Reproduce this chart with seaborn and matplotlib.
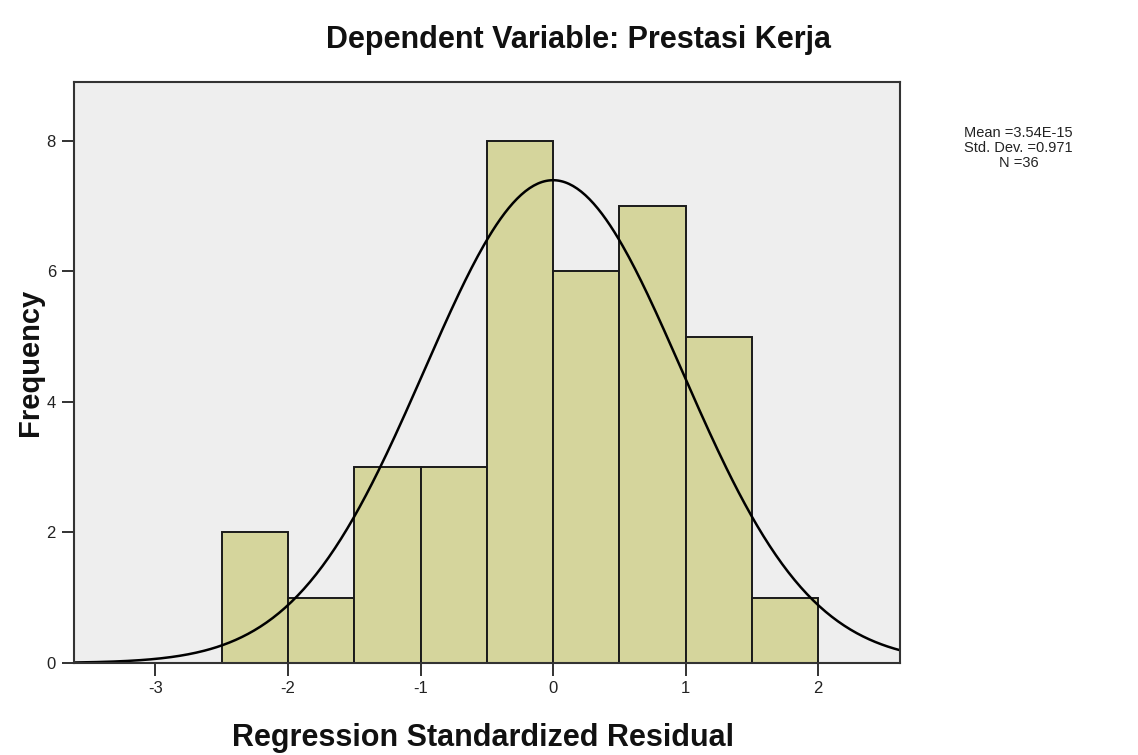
import numpy as np
import matplotlib
matplotlib.use("Agg")
import matplotlib.pyplot as plt
import seaborn as sns

# Data
bin_edges = [-2.5, -2.0, -1.5, -1.0, -0.5, 0.0, 0.5, 1.0, 1.5, 2.0]
counts = [2, 1, 3, 3, 8, 6, 7, 5, 1]
mean_val = 3.54e-15
std_val = 0.971
n_val = 36
x_ticks = [-3, -2, -1, 0, 1, 2]
y_ticks = [0, 2, 4, 6, 8]
title = "Dependent Variable: Prestasi Kerja"
x_label = "Regression Standardized Residual"
y_label = "Frequency"
stats_text = "Mean =3.54E-15\nStd. Dev. =0.971\nN =36"

sns.set_theme(style="white")
plt.rcParams['font.family'] = ['Liberation Sans', 'DejaVu Sans']

fig = plt.figure(figsize=(11.38, 7.55), dpi=100)
fig.patch.set_facecolor("white")
ax = fig.add_axes([0.065, 0.1219, 0.726, 0.7695])
ax.set_facecolor("#eeeeee")

centers = [(bin_edges[i] + bin_edges[i + 1]) / 2 for i in range(len(counts))]
sns.histplot(x=centers, weights=counts, bins=bin_edges, ax=ax,
             color="#d5d59c", alpha=1.0, edgecolor="#1a1a1a", linewidth=1.4)

xmin, xmax = -3.615, 2.619
xs = np.linspace(xmin, xmax, 400)
ys = n_val * 0.5 / (std_val * np.sqrt(2 * np.pi)) * np.exp(-0.5 * ((xs - mean_val) / std_val) ** 2)
sns.lineplot(x=xs, y=ys, ax=ax, color="black", linewidth=1.8)

ax.set_xlim(xmin, xmax)
ax.set_ylim(0, 8.9)
ax.set_xticks(x_ticks)
ax.set_xticklabels([str(t) for t in x_ticks])
ax.set_yticks(y_ticks)
ax.set_yticklabels([str(t) for t in y_ticks])
ax.set_xlabel("")
ax.set_ylabel("")
ax.tick_params(axis="both", which="major", direction="out", length=9, width=1.3,
               color="#222222", labelsize=12, labelcolor="#222222", bottom=True, left=True,
               pad=4)
for s in ax.spines.values():
    s.set_color("#333333")
    s.set_linewidth(1.5)

fig.text(0.424, 0.0225, x_label, ha="center", va="center", fontsize=22, fontweight="bold",
         color="#111111")
fig.text(0.026, 0.52, y_label, ha="center", va="center", rotation=90, fontsize=21,
         fontweight="bold", color="#111111")
fig.text(0.508, 0.947, title, ha="center", va="center", fontsize=22, fontweight="bold",
         color="#111111")

fig.text(0.895, 0.833, stats_text, ha="center", va="top", fontsize=10.5,
         color="#222222", linespacing=1.1)

fig.savefig("out.png", dpi=100)
